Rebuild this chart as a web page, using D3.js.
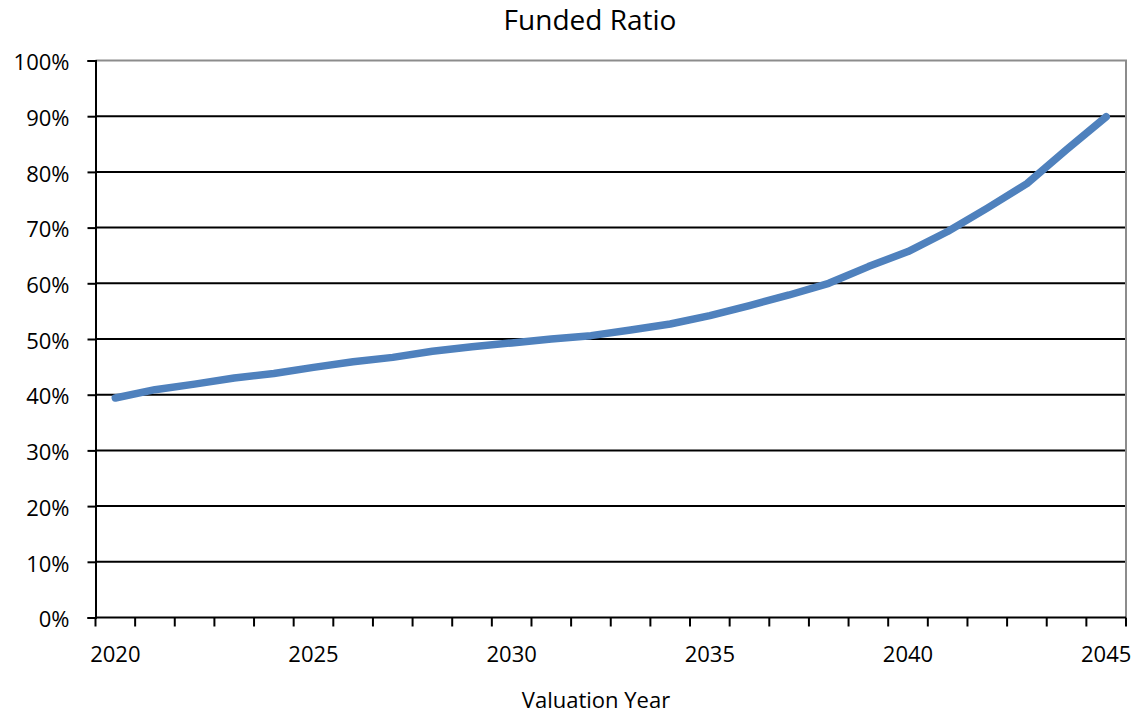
<!DOCTYPE html>
<html>
<head>
<meta charset="utf-8">
<script src="https://cdn.jsdelivr.net/npm/d3@7"></script>
<style>
  body { margin: 0; background: #fff; }
  svg { display: block; font-family: "Open Sans", sans-serif; }
</style>
</head>
<body>
<div id="chart"></div>
<script>
// data
const years = d3.range(2020, 2046);
const fundedRatio = [0.394, 0.409, 0.419, 0.430, 0.438, 0.449, 0.459, 0.467, 0.478, 0.486,
                     0.493, 0.500, 0.506, 0.516, 0.527, 0.542, 0.560, 0.579, 0.600, 0.630,
                     0.657, 0.693, 0.735, 0.779, 0.840, 0.899];
const yTicks = d3.range(0, 11).map(d => d / 10);
const labelYears = [2020, 2025, 2030, 2035, 2040, 2045];

const width = 1141, height = 715;
const plotLeft = 95.5, plotRight = 1126, plotTop = 60.5, plotBottom = 617.5;

const svg = d3.select('#chart').append('svg')
  .attr('width', width)
  .attr('height', height);

const x = d3.scaleBand().domain(years).range([plotLeft, plotRight]).paddingInner(0).paddingOuter(0);
const y = d3.scaleLinear().domain([0, 1]).range([plotBottom, plotTop]);

// grid lines
svg.append('g')
  .selectAll('line')
  .data(yTicks.filter(d => d > 0 && d < 1))
  .enter().append('line')
  .attr('x1', plotLeft).attr('x2', plotRight)
  .attr('y1', d => y(d)).attr('y2', d => y(d))
  .attr('stroke', '#000')
  .attr('stroke-width', 2);

// plot border top / right
svg.append('path')
  .attr('d', `M${plotLeft},${plotTop}H${plotRight}V${plotBottom}`)
  .attr('fill', 'none')
  .attr('stroke', '#8c8c8c')
  .attr('stroke-width', 2);

// y axis
const yAxis = d3.axisLeft(y)
  .tickValues(yTicks)
  .tickFormat(d3.format('.0%'))
  .tickSize(8)
  .tickPadding(18);
const gy = svg.append('g').attr('transform', `translate(${plotLeft},0)`).call(yAxis);
gy.select('.domain').attr('stroke', '#000').attr('stroke-width', 2);
gy.selectAll('.tick line').attr('stroke', '#000').attr('stroke-width', 2);
gy.selectAll('.tick text')
  .attr('font-size', 22)
  .attr('fill', '#000')
  .attr('dy', '0.42em')
  .style('font-family', '"Open Sans", sans-serif');

// x axis line
svg.append('line')
  .attr('x1', plotLeft).attr('x2', plotRight)
  .attr('y1', plotBottom).attr('y2', plotBottom)
  .attr('stroke', '#000').attr('stroke-width', 2);

// x tick marks between categories
const tickPos = years.map(d => x(d)).concat([x(years[years.length - 1]) + x.bandwidth()]);
svg.append('g')
  .selectAll('line')
  .data(tickPos)
  .enter().append('line')
  .attr('x1', d => d).attr('x2', d => d)
  .attr('y1', plotBottom).attr('y2', plotBottom + 9)
  .attr('stroke', '#000').attr('stroke-width', 2);

// x labels every 5 years
svg.append('g')
  .selectAll('text')
  .data(labelYears)
  .enter().append('text')
  .attr('x', d => x(d) + x.bandwidth() / 2)
  .attr('y', 662)
  .attr('text-anchor', 'middle')
  .attr('font-size', 22)
  .attr('fill', '#000')
  .text(d => d);

// the line
const line = d3.line()
  .x((d, i) => x(years[i]) + x.bandwidth() / 2)
  .y(d => y(d));

svg.append('path')
  .datum(fundedRatio)
  .attr('d', line)
  .attr('fill', 'none')
  .attr('stroke', '#4f81bd')
  .attr('stroke-width', 7.5)
  .attr('stroke-linecap', 'round')
  .attr('stroke-linejoin', 'round');

// titles
svg.append('text')
  .attr('x', 590).attr('y', 30)
  .attr('text-anchor', 'middle')
  .attr('font-size', 28)
  .attr('fill', '#000')
  .text('Funded Ratio');

svg.append('text')
  .attr('x', 596).attr('y', 708)
  .attr('text-anchor', 'middle')
  .attr('font-size', 22)
  .attr('fill', '#000')
  .text('Valuation Year');
</script>
</body>
</html>
